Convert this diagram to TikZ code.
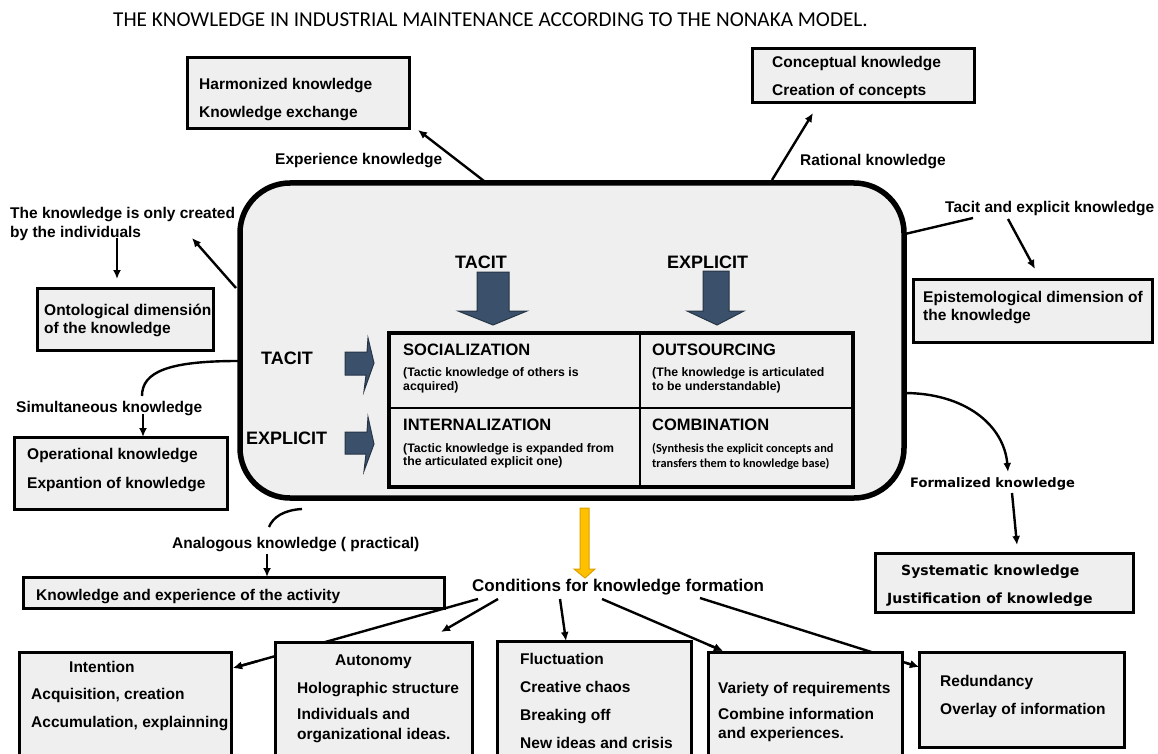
\documentclass[tikz,border=0pt]{standalone}
\usepackage{fontspec}
\setmainfont{Liberation Sans}
\newfontfamily\calib{Carlito}
\newfontfamily\verd{DejaVu Sans}
\usetikzlibrary{arrows.meta,calc}
\definecolor{boxgray}{RGB}{239,239,239}
\definecolor{slate}{RGB}{59,81,107}
\definecolor{slateedge}{RGB}{38,52,70}
\definecolor{gold}{RGB}{255,192,0}
\definecolor{goldedge}{RGB}{222,160,0}
\begin{document}
\begin{tikzpicture}[x=1pt,y=-1pt,
  box/.style={draw=black,line width=3pt,fill=boxgray,anchor=north west,inner sep=0pt,outer sep=0pt},
  txt/.style={anchor=mid west,inner sep=0pt,yshift=-3.5pt},
  lbl/.style={txt,font=\fontsize{15.5}{18}\selectfont\bfseries},
  capl/.style={txt,font=\fontsize{18}{20}\selectfont\bfseries},
  hdl/.style={txt,font=\fontsize{16.5}{19}\selectfont\bfseries},
  subl/.style={txt,font=\fontsize{12.3}{14}\selectfont\bfseries},
  subc/.style={txt,font=\fontsize{12.3}{14}\selectfont\calib\bfseries},
  vlbl/.style={txt,font=\fontsize{13}{16}\selectfont\verd\bfseries},
  vbold/.style={txt,font=\fontsize{14}{17}\selectfont\verd\bfseries},
  arr/.style={line width=2.4pt,-{Latex[length=9pt,width=8pt]}},
  ln/.style={line width=2.4pt},
  blockarrow/.style={fill=slate,draw=slateedge,line width=1pt,line join=miter},
]
\useasboundingbox (0,0) rectangle (1158,754);
\clip (0,0) rectangle (1158,754);
\fill[white] (0,0) rectangle (1158,754);

% title
\node[txt,font=\fontsize{21.2}{24}\selectfont\calib] (title) at (113,20)
  {THE KNOWLEDGE IN INDUSTRIAL MAINTENANCE ACCORDING TO THE NONAKA MODEL.};

% main rounded box
\node[draw=black,line width=5.5pt,fill=boxgray,rounded corners=50pt,anchor=north west,
  inner sep=0pt,outer sep=0pt,minimum width=664pt,minimum height=315pt] (main) at (240,183) {};

% top boxes
\node[box,minimum width=222pt,minimum height=71pt] (hk) at (187,58) {};
\node[lbl] (hk1) at (199,83) {Harmonized knowledge};
\node[lbl] (hk2) at (199,111) {Knowledge exchange};
\node[box,minimum width=222pt,minimum height=54pt] (ck) at (752,49) {};
\node[lbl] (ck1) at (772,61) {Conceptual knowledge};
\node[lbl] (ck2) at (772,89) {Creation of concepts};

\node[lbl] (exp) at (275,158) {Experience knowledge};
\node[lbl] (rat) at (800,159) {Rational knowledge};

\coordinate (m1) at (484,181);
\coordinate (e1) at (418,130);
\draw[arr] (m1) -- (e1);
\coordinate (m2) at (772,180);
\coordinate (e2) at (813,113);
\draw[arr] (m2) -- (e2);

% left upper
\node[lbl] (cre1) at (10,212) {The knowledge is only created};
\node[lbl] (cre2) at (10,231) {by the individuals};
\coordinate (m3) at (236,288);
\coordinate (e3) at (192,238);
\draw[arr] (m3) -- (e3);
\coordinate (c4) at (117,238);
\draw[arr] (c4) -- (117,279);
\node[box,minimum width=176pt,minimum height=62pt] (onto) at (37,288) {};
\node[lbl] (onto1) at (44,309) {Ontological dimensión};
\node[lbl] (onto2) at (44,327) {of the knowledge};

% right upper
\node[lbl] (te) at (945,206) {Tacit and explicit knowledge};
\coordinate (m5) at (905,234);
\coordinate (c5) at (973,218);
\draw[ln] (m5) -- (c5);
\coordinate (c6) at (1008,219);
\draw[arr] (c6) -- (1035,269);
\node[box,minimum width=239pt,minimum height=63pt] (epi) at (913,279) {};
\node[lbl] (epi1) at (923,296) {Epistemological dimension of};
\node[lbl] (epi2) at (923,314) {the knowledge};

% inner labels
\node[capl] (tacT) at (455,262) {TACIT};
\node[capl] (expT) at (667,262) {EXPLICIT};
\node[capl] (tacL) at (261,358) {TACIT};
\node[capl] (expL) at (246,438) {EXPLICIT};

% block arrows down
\draw[blockarrow] (477,272) -- (509,272) -- (509,311) -- (527,311) -- (493,325) -- (458,311) -- (477,311) -- cycle;
\draw[blockarrow] (703,271) -- (729,271) -- (729,311) -- (744,311) -- (717,325) -- (687,311) -- (703,311) -- cycle;
% block arrows right
\draw[blockarrow] (345,352) -- (367,352) -- (368,338) -- (374,363) -- (364,391) -- (366,375) -- (345,375) -- cycle;
\draw[blockarrow] (345,432) -- (367,432) -- (368,417) -- (374,444) -- (364,471) -- (366,454) -- (345,454) -- cycle;

% quad
\node[draw=black,line width=3.5pt,fill=boxgray,anchor=north west,inner sep=0pt,outer sep=0pt,
  minimum width=464pt,minimum height=154pt] (quad) at (389,333) {};
\draw[line width=1.5pt] (quad.north west -| 640,0) -- (quad.south west -| 640,0);
\draw[line width=1.5pt] (quad.west |- 0,408) -- (quad.east |- 0,408);
\node[hdl] (soc) at (403,349) {SOCIALIZATION};
\node[subl] (soc1) at (403,370) {(Tactic knowledge of others is};
\node[subl] (soc2) at (403,384) {acquired)};
\node[hdl] (out) at (652,349) {OUTSOURCING};
\node[subl] (out1) at (652,370) {(The knowledge is articulated};
\node[subl] (out2) at (652,384) {to be understandable)};
\node[hdl] (int) at (403,424) {INTERNALIZATION};
\node[subl] (int1) at (403,446) {(Tactic knowledge is expanded from};
\node[subl] (int2) at (403,459) {the articulated explicit one)};
\node[hdl] (com) at (652,424) {COMBINATION};
\node[subc] (com1) at (652,446) {(Synthesis the explicit concepts and};
\node[subc] (com2) at (652,461) {transfers them to knowledge base)};

% simultaneous
\coordinate (m7) at (238,361);
\coordinate (c7) at (142,396);
\draw[ln] (m7) .. controls (168,361) and (142,372) .. (c7);
\node[lbl] (sim) at (16,406) {Simultaneous knowledge};
\coordinate (c8) at (143,414);
\draw[arr] (c8) -- (143,437);
\node[box,minimum width=213pt,minimum height=72pt] (op) at (14,437) {};
\node[lbl] (op1) at (27,453) {Operational knowledge};
\node[lbl] (op2) at (27,482) {Expantion of knowledge};

% analogous
\coordinate (m9) at (302,509);
\coordinate (c9) at (269,527);
\draw[ln] (m9) .. controls (284,510) and (273,517) .. (c9);
\node[lbl] (ana) at (172,542) {Analogous knowledge ( practical)};
\coordinate (c10) at (267,554);
\draw[arr] (c10) -- (267,577);
\node[box,minimum width=421pt,minimum height=31pt] (ke) at (23,577) {};
\node[lbl] (ke1) at (36,594) {Knowledge and experience of the activity};

% formalized
\coordinate (m11) at (904,393);
\coordinate (c11) at (1008,472);
\draw[arr] (m11) .. controls (965,393) and (1004,425) .. (c11);
\node[vlbl] (form) at (910,481) {Formalized knowledge};
\coordinate (c12) at (1012,493);
\draw[arr] (c12) -- (1017,545);
\node[box,minimum width=258pt,minimum height=59pt] (sys) at (875,553) {};
\node[vbold] (sys1) at (901,569) {Systematic knowledge};
\node[vbold] (sys2) at (887,597) {Justification of knowledge};

% yellow arrow
\draw[fill=gold,draw=goldedge,line width=1pt] (580,508) -- (589,508) -- (589,569) -- (595,569) -- (585,578) -- (574,569) -- (580,569) -- cycle;

% conditions
\node[txt,font=\fontsize{17}{20}\selectfont\bfseries] (cond) at (472,585) {Conditions for knowledge formation};
\coordinate (k1) at (478,599);
\coordinate (k2) at (498,599);
\coordinate (k3) at (560,599);
\coordinate (k4) at (602,599);
\coordinate (k5) at (700,598);
\draw[arr] (k1) -- (233,668);
\draw[arr] (k2) -- (441,632);
\draw[arr] (k3) -- (566,641);
\draw[arr] (k4) -- (723,651);
\draw[arr] (k5) -- (919,667);

% bottom boxes
\node[box,minimum width=212pt,minimum height=120pt] (intn) at (19,652) {};
\node[lbl] (in1) at (69,666) {Intention};
\node[lbl] (in2) at (31,693) {Acquisition, creation};
\node[lbl] (in3) at (31,721) {Accumulation, explainning};

\node[box,minimum width=197pt,minimum height=130pt] (auto) at (275,642) {};
\node[lbl] (au1) at (335,659) {Autonomy};
\node[lbl] (au2) at (297,687) {Holographic structure};
\node[lbl] (au3) at (297,713) {Individuals and};
\node[lbl] (au4) at (297,733) {organizational ideas.};

\node[box,minimum width=194pt,minimum height=130pt] (flu) at (497,641) {};
\node[lbl] (fl1) at (520,658) {Fluctuation};
\node[lbl] (fl2) at (520,686) {Creative chaos};
\node[lbl] (fl3) at (520,714) {Breaking off};
\node[lbl] (fl4) at (520,742) {New ideas and crisis};

\node[box,minimum width=194pt,minimum height=120pt] (var) at (708,652) {};
\node[lbl] (va1) at (718,687) {Variety of requirements};
\node[lbl] (va2) at (718,713) {Combine information};
\node[lbl] (va3) at (718,732) {and experiences.};

\node[box,minimum width=205pt,minimum height=95pt] (red) at (919,652) {};
\node[lbl] (re1) at (940,680) {Redundancy};
\node[lbl] (re2) at (940,708) {Overlay of information};

% redraw arrow tips over bottom boxes
\draw[arr] ($(k1)!0.9!(233,668)$) -- (233,668);
\draw[arr] ($(k4)!0.88!(723,651)$) -- (723,651);
\draw[arr] ($(k5)!0.94!(919,667)$) -- (919,667);
\end{tikzpicture}
\end{document}
